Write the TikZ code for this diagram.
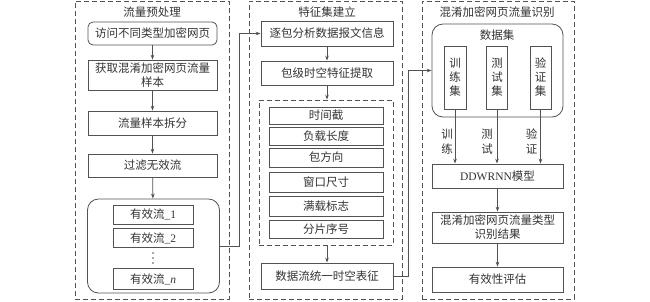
\documentclass[tikz,border=0pt]{standalone}
\usepackage{fontspec}
\setmainfont{Liberation Serif}
\newfontfamily\cjk{Noto Sans CJK SC}
\usetikzlibrary{arrows.meta}
\definecolor{lc}{gray}{0.32}
\definecolor{tc}{gray}{0.2}
\tikzset{
  bx/.style={draw=lc, line width=0.8pt, rectangle, inner sep=0pt, align=center, text=tc,
    font=\cjk\fontsize{11.5}{14}\selectfont},
  rbx/.style={bx, rounded corners=5pt},
  container/.style={draw=lc, line width=0.8pt, rectangle, rounded corners=11pt, inner sep=0pt},
  panel/.style={draw=lc, line width=0.8pt, rectangle, inner sep=0pt, dash pattern=on 5pt off 3pt},
  ttl/.style={inner sep=0pt, text=tc, font=\cjk\fontsize{11.5}{14}\selectfont, align=center},
  arr/.style={draw=lc, line width=0.8pt, -{Stealth[length=5pt,width=3.6pt]}},
}
\begin{document}
\begin{tikzpicture}[x=1pt,y=-1pt]
\useasboundingbox (0,0) rectangle (650,301);
% ---------- left panel
\node[panel, minimum width=154pt, minimum height=298pt] (lp) at (152,150) {};
\node[ttl] (lt) at (152,12) {流量预处理};
\node[rbx, minimum width=129pt, minimum height=23pt] (a1) at (152.5,33.5) {访问不同类型加密网页};
\node[bx, minimum width=129pt, minimum height=30pt] (a2) at (152.5,75) {获取混淆加密网页流量\\样本};
\node[bx, minimum width=129pt, minimum height=24pt] (a3) at (152.5,123) {流量样本拆分};
\node[bx, minimum width=129pt, minimum height=23pt] (a4) at (152.5,165.5) {过滤无效流};
\node[container, minimum width=132pt, minimum height=94pt] (ac) at (153.5,246) {};
\node[bx, minimum width=80pt, minimum height=19pt] (e1) at (153,214.5) {有效流{\rmfamily\_1}};
\node[bx, minimum width=80pt, minimum height=19pt] (e2) at (153,238) {有效流{\rmfamily\_2}};
\node[bx, minimum width=80pt, minimum height=21pt] (en) at (153,279) {有效流{\rmfamily\_\textit{n}}};
\fill[lc] (153,253) circle (0.9pt) (153,258) circle (0.9pt) (153,263) circle (0.9pt);
\draw[arr] (a1) -- (a2);
\draw[arr] (a2) -- (a3);
\draw[arr] (a3) -- (a4);
\draw[arr] (a4) -- (ac);
% ---------- middle panel
\node[panel, minimum width=153pt, minimum height=298pt] (mp) at (325.5,150) {};
\node[ttl] (mt) at (327,12) {特征集建立};
\node[bx, minimum width=132pt, minimum height=25pt] (f1) at (327,33.5) {逐包分析数据报文信息};
\node[bx, minimum width=132pt, minimum height=24pt] (f2) at (327,73) {包级时空特征提取};
\node[panel, minimum width=134pt, minimum height=145pt] (fb) at (326,172.5) {};
\node[bx, minimum width=114pt, minimum height=17pt] (g1) at (326,115.5) {时间截};
\node[bx, minimum width=114pt, minimum height=18pt] (g2) at (326,136) {负载长度};
\node[bx, minimum width=114pt, minimum height=19pt] (g3) at (326,157.5) {包方向};
\node[bx, minimum width=114pt, minimum height=20pt] (g4) at (326,182) {窗口尺寸};
\node[bx, minimum width=114pt, minimum height=20pt] (g5) at (326,206) {满载标志};
\node[bx, minimum width=114pt, minimum height=18pt] (g6) at (326,229) {分片序号};
\node[bx, minimum width=132pt, minimum height=26pt] (f3) at (327,276) {数据流统一时空表征};
\draw[arr] (f1) -- (f2);
\draw[arr] (f2) -- (f2 |- fb.north);
\draw[arr] (f3 |- fb.south) -- (f3);
% ---------- right panel
\node[panel, minimum width=152pt, minimum height=298pt] (rp) at (498,150) {};
\node[ttl] (rt) at (497,12) {混淆加密网页流量识别};
\node[container, minimum width=131pt, minimum height=93pt] (ds) at (497.5,70.5) {};
\node[ttl] (dst) at (497,35) {数据集};
\node[bx, minimum width=22pt, minimum height=63pt] (tr) at (455,77.5) {训\\练\\集};
\node[bx, minimum width=21pt, minimum height=63pt] (te) at (497,77.5) {测\\试\\集};
\node[bx, minimum width=21pt, minimum height=63pt] (va) at (540.5,77.5) {验\\证\\集};
\node[bx, minimum width=131pt, minimum height=24pt] (dd) at (497.5,176) {{\rmfamily DDWRNN}模型};
\node[bx, minimum width=131pt, minimum height=31pt] (rs) at (497.5,227.5) {混淆加密网页流量类型\\识别结果};
\node[bx, minimum width=131pt, minimum height=25pt] (ev) at (497.5,279.5) {有效性评估};
\draw[arr] (tr) -- (tr |- dd.north);
\draw[arr] (te) -- (te |- dd.north);
\draw[arr] (va) -- (va |- dd.north);
\node[ttl, font=\cjk\fontsize{11.5}{14.5}\selectfont] (l1) at (447,141.5) {训\\练};
\node[ttl, font=\cjk\fontsize{11.5}{14.5}\selectfont] (l2) at (487,141.5) {测\\试};
\node[ttl, font=\cjk\fontsize{11.5}{14.5}\selectfont] (l3) at (531.5,141.5) {验\\证};
\draw[arr] (dd) -- (rs);
\draw[arr] (rs) -- (ev);
% ---------- cross-panel connectors
\draw[arr] (ac.east) -- ++(19,0) |- (f1.west);
\draw[arr] (f3.east) -- ++(15,0) |- (ds.west);
\end{tikzpicture}
\end{document}
